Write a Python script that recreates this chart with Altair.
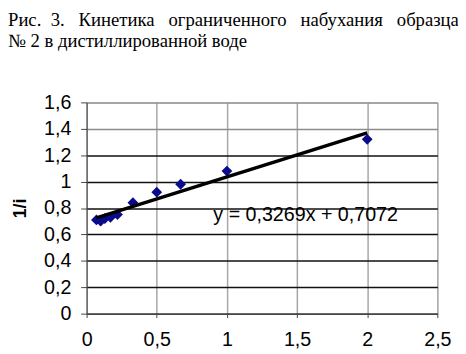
import altair as alt
import pandas as pd

# data
x_vals = [0.07, 0.10, 0.13, 0.17, 0.22, 0.33, 0.50, 0.67, 1.00, 2.00]
y_vals = [0.71, 0.70, 0.72, 0.73, 0.75, 0.84, 0.92, 0.98, 1.08, 1.32]
x_ticks = [0, 0.5, 1, 1.5, 2, 2.5]
y_ticks = [0, 0.2, 0.4, 0.6, 0.8, 1.0, 1.2, 1.4, 1.6]
equation = "y = 0,3269x + 0,7072"
y_title = "1/i"
title_words = ["Рис.", "3.", "Кинетика", "ограниченного", "набухания", "образца"]
title_line2 = "№ 2 в дистиллированной воде"

NB = "\u00a0"
gaps = [NB * 2, NB * 3, NB * 3, NB * 3, NB * 3]
line1 = title_words[0] + "".join(g + w for g, w in zip(gaps, title_words[1:]))
title_lines = [line1, title_line2]

df = pd.DataFrame({"x": x_vals, "y": y_vals})

SANS = "Liberation Sans"
SERIF = "'Times New Roman', 'Liberation Serif', 'DejaVu Serif', serif"

fmt = "replace(format(datum.value, ''), '.', ',')"

xs = alt.Scale(domain=[0, 2.5], nice=False, zero=True)
ys = alt.Scale(domain=[0, 1.6], nice=False)

x_enc = alt.X(
    "x:Q", scale=xs, title=None,
    axis=alt.Axis(values=x_ticks, labelExpr=fmt, grid=True, gridColor="#a6a6a6",
                  gridWidth=1.5, domainColor="#444", tickColor="#444", tickSize=4,
                  labelFont=SANS, labelFontSize=20, labelColor="black",
                  labelPadding=12, labelFlush=False, labelOverlap=False),
)
y_enc = alt.Y(
    "y:Q", scale=ys, title=y_title,
    axis=alt.Axis(values=y_ticks, labelExpr=fmt, grid=True, tickCount=9,
                  gridColor={"condition": {"test": "datum.value >= 1.35", "value": "#8c8c8c"},
                             "value": "#111"},
                  gridWidth=1.5, domainColor="#444", tickColor="#444", tickSize=6,
                  labelFont=SANS, labelFontSize=20, labelColor="black",
                  labelPadding=10, labelFlush=False, labelOverlap=False,
                  titleFont=SANS, titleFontSize=18, titleFontWeight="bold",
                  titleColor="black", titlePadding=14),
)

points = alt.Chart(df).mark_point(
    shape="diamond", filled=True, size=120, color="#0a0a8c", opacity=1
).encode(x=x_enc, y=y_enc)

trend = alt.Chart(df).transform_regression("x", "y").mark_line(
    color="black", strokeWidth=3.5
).encode(x=x_enc, y=y_enc)

eq = alt.Chart(pd.DataFrame({"t": [equation]})).mark_text(
    align="left", baseline="middle", font=SANS, fontSize=20, color="black"
).encode(text="t:N", x=alt.value(129), y=alt.value(115))

chart = alt.layer(points, trend, eq).properties(
    width=357, height=215,
    padding={"left": 80, "top": 93, "right": 21, "bottom": 38},
    autosize=alt.AutoSizeParams(type="none"),
    title=alt.TitleParams(
        text=title_lines, anchor="start", align="left", frame="group",
        font=SERIF, fontSize=19, fontWeight="normal", color="black",
        lineHeight=22, dx=-80, offset=42,
    ),
).configure_view(stroke="#8c8c8c", strokeWidth=1.5).configure(background="white")

chart.save("out.html", embed_options={"renderer": "svg", "actions": False})
